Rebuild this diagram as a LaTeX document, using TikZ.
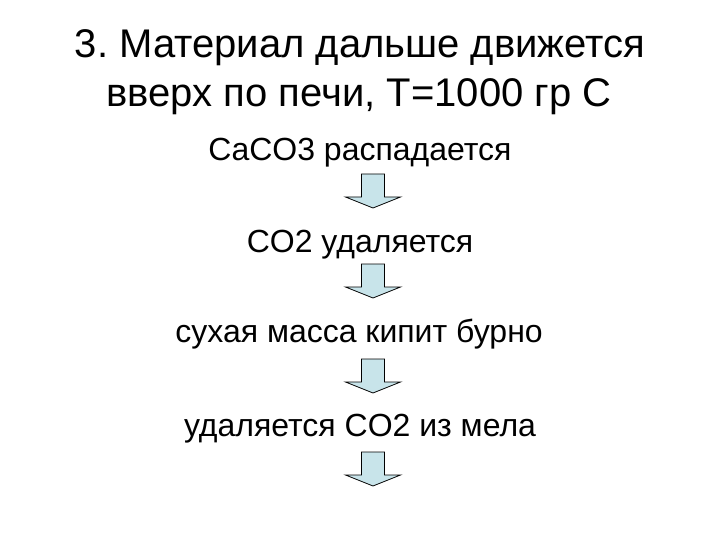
\documentclass[tikz,border=0pt]{standalone}
\usepackage{fontspec}
\setmainfont{Liberation Sans}
\usetikzlibrary{positioning}

\definecolor{arrowfill}{RGB}{200,228,234}

\tikzset{
    heading/.style={font=\fontsize{40}{49}\selectfont, inner sep=0pt, anchor=base},
    stage/.style={font=\fontsize{32}{38}\selectfont, inner sep=0pt, anchor=base},
    downarrow/.pic={
        \draw[fill=arrowfill, line width=0.8pt]
            (-11.5,0) -- (-11.5,-23) -- (-27.5,-23) -- (0,-34)
            -- (27.5,-23) -- (11.5,-23) -- (11.5,0) -- cycle;
    }
}

\begin{document}
\frenchspacing
\begin{tikzpicture}[x=1pt, y=1pt]
    \useasboundingbox (0,0) rectangle (720,-540);

    \node[heading]                 (title)  at (360,-58)   {3. Материал дальше движется};
    \node[heading]                 (title2) at (359,-107)  {вверх по печи, Т=1000 гр С};

    \node[stage]                   (decomp) at (360,-161)  {CaCO3 распадается};
    \node[stage]                   (remove) at (360,-252)  {CO2 удаляется};
    \node[stage]                   (boil)   at (359,-342)  {сухая масса кипит бурно};
    \node[stage]                   (chalk)  at (360,-436)  {удаляется CO2 из мела};

    \path (373,-174) pic {downarrow}
          (373,-264) pic {downarrow}
          (373,-359) pic {downarrow}
          (373,-452) pic {downarrow};
\end{tikzpicture}
\end{document}
